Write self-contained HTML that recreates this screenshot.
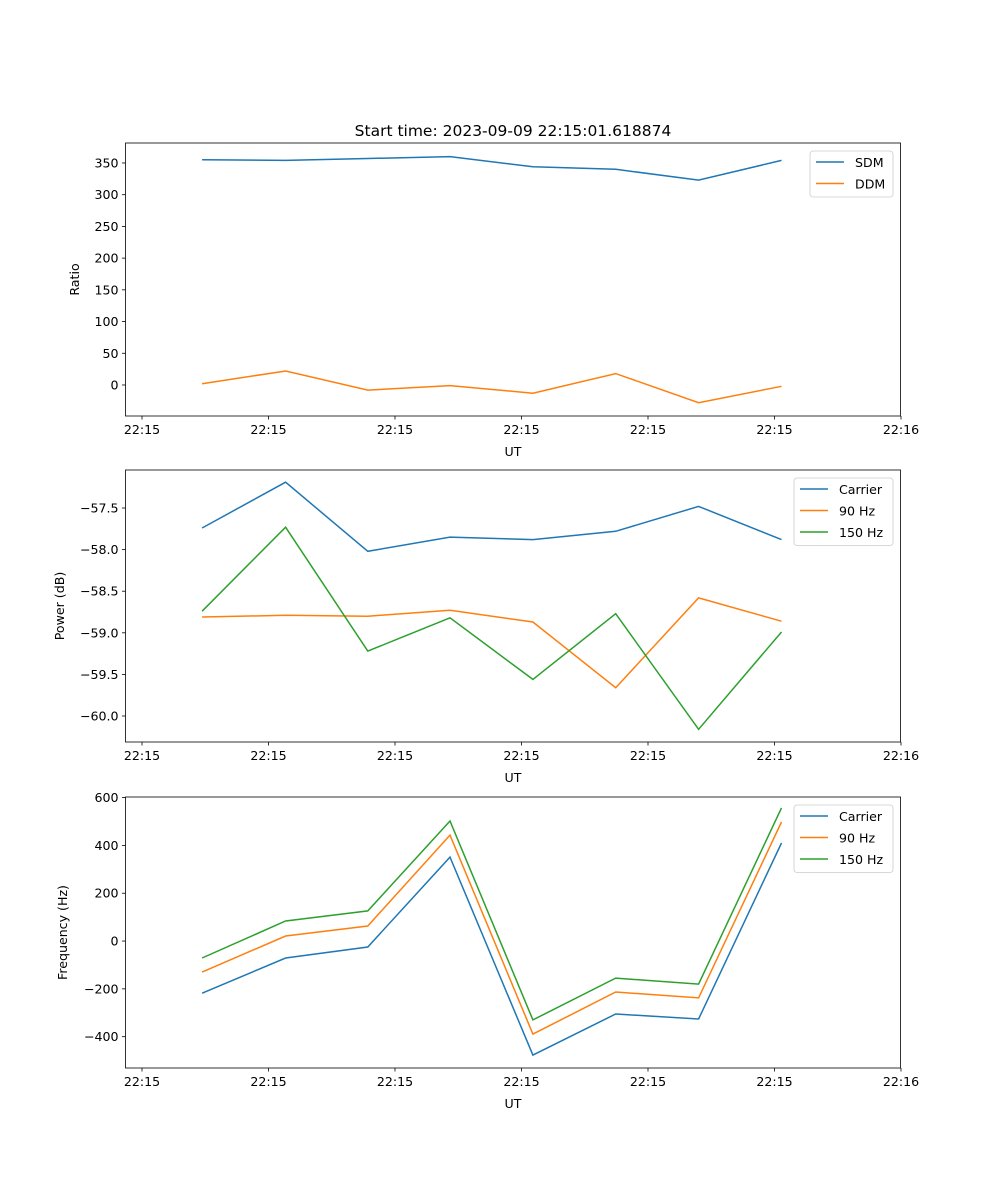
<!DOCTYPE html>
<html><head><meta charset="utf-8"><style>
body{margin:0;background:#fff}
svg{display:block;font-family:"DejaVu Sans","Liberation Sans",sans-serif}
</style></head><body>
<svg id="fig" width="1000" height="1200" xmlns="http://www.w3.org/2000/svg"></svg>
<script>
const times = [4.75, 11.35, 17.85, 24.35, 30.9, 37.45, 44.0, 50.55];
const xTickVals = [0,10,20,30,40,50,60];
const xTickLabels = ["22:15","22:15","22:15","22:15","22:15","22:15","22:16"];
const sdm = [355,354,357,360,344,340,323,354];
const ddm = [2,22,-8,-1,-13,18,-28,-2];
const powCarrier = [-57.74,-57.19,-58.02,-57.85,-57.88,-57.78,-57.48,-57.88];
const pow90 = [-58.81,-58.79,-58.80,-58.73,-58.87,-59.66,-58.58,-58.86];
const pow150 = [-58.74,-57.73,-59.22,-58.82,-59.56,-58.77,-60.16,-58.99];
const freqCarrier = [-218,-71,-25,351,-477,-305,-326,410];
const freq90 = [-130,21,63,443,-389,-213,-238,498];
const freq150 = [-71,84,126,502,-330,-155,-180,557];
const ticks1 = [0,50,100,150,200,250,300,350];
const ticks2 = [-60.0,-59.5,-59.0,-58.5,-58.0,-57.5];
const ticks3 = [-400,-200,0,200,400,600];
const tickLabels2 = ["\u221260.0","\u221259.5","\u221259.0","\u221258.5","\u221258.0","\u221257.5"];

const NS="http://www.w3.org/2000/svg";
const svg=document.getElementById('fig');
function mk(tag,attrs,parent){const e=document.createElementNS(NS,tag);for(const k in attrs)e.setAttribute(k,attrs[k]);(parent||svg).appendChild(e);return e;}
const L=125.5,R=900.5;
function xs(t){return 142+(t)*12.65;}
const C=["#1f77b4","#ff7f0e","#2ca02c"];
const FS=12.6;

function panel(name,top,bottom,ymin,ymax,ticks,tlabels,ylabel,series,names,legend){
  const g=mk('g',{});
  
  
  const ys=v=>bottom-(v-ymin)/(ymax-ymin)*(bottom-top);
  series.forEach((s,i)=>{
    const p=mk('polyline',{points:s.map((v,j)=>xs(times[j]).toFixed(1)+','+ys(v).toFixed(1)).join(' '),fill:'none',stroke:C[i],'stroke-width':1.5},g);
    
    
  });
  const fr=mk('rect',{x:L,y:top,width:R-L,height:bottom-top,fill:'none',stroke:'#000','stroke-width':0.8},g);
  
  
  xTickVals.forEach((t,i)=>{
    const x=xs(t);
    mk('line',{x1:x,x2:x,y1:bottom,y2:bottom+3.5,stroke:'#000','stroke-width':0.8},g);
    const tx=mk('text',{x:x,y:bottom+18,'font-size':FS,'text-anchor':'middle',fill:'#000'},g);
    tx.textContent=xTickLabels[i];
    
    
  });
  ticks.forEach((v,i)=>{
    const y=ys(v);
    mk('line',{x1:L-3.5,x2:L,y1:y,y2:y,stroke:'#000','stroke-width':0.8},g);
    const tx=mk('text',{x:L-7,y:y+4.5,'font-size':FS,'text-anchor':'end',fill:'#000'},g);
    tx.textContent=tlabels?tlabels[i]:String(v);
    
    
  });
  const xl=mk('text',{x:(L+R)/2,y:bottom+40,'font-size':FS,'text-anchor':'middle'},g);
  xl.textContent='UT';
  
  
  const yx=legend.ylx;
  const yl=mk('text',{x:yx,y:(top+bottom)/2,'font-size':FS,'text-anchor':'middle',transform:`rotate(-90 ${yx} ${(top+bottom)/2})`},g);
  yl.textContent=ylabel;
  
  
  const lg=mk('g',{},g);
  
  
  mk('rect',{x:legend.x,y:top+8,width:893-legend.x,height:names.length*21.5+3,rx:3,fill:'#fff',stroke:'#ccc','stroke-width':0.8},lg);
  names.forEach((n,i)=>{
    const y=top+19+i*21.5;
    mk('line',{x1:legend.x+6,x2:legend.x+34,y1:y,y2:y,stroke:C[i],'stroke-width':1.5},lg);
    const t=mk('text',{x:legend.x+45,y:y+5,'font-size':FS},lg);
    t.textContent=n;
    
    
  });
}
const title=mk('text',{x:513,y:136,'font-size':15.5,'text-anchor':'middle'});
title.textContent='Start time: 2023-09-09 22:15:01.618874';


panel('ratio-panel',143,416,-48.9,381.5,ticks1,null,'Ratio',[sdm,ddm],['SDM','DDM'],{x:810,ylx:79});
panel('power-panel',470,742,-60.3125,-57.043,ticks2,tickLabels2,'Power (dB)',[powCarrier,pow90,pow150],['Carrier','90 Hz','150 Hz'],{x:794,ylx:64});
const t3=ticks3.map(v=>v<0?'\u2212'+Math.abs(v):String(v));
panel('frequency-panel',797,1068,-531,602.5,ticks3,t3,'Frequency (Hz)',[freqCarrier,freq90,freq150],['Carrier','90 Hz','150 Hz'],{x:794,ylx:67});
</script>
</body></html>
